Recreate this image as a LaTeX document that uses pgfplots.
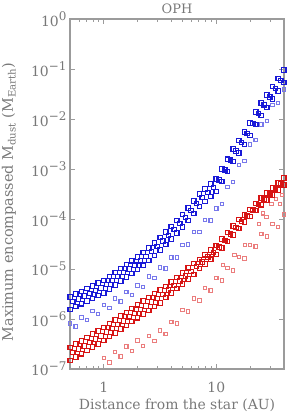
\documentclass[border=0pt]{standalone}
\usepackage{pgfplots}
\pgfplotsset{compat=1.18}
\usepackage{pgfplotstable}
\usepackage{fontspec}
\setmainfont{DejaVu Serif}
\definecolor{axgray}{RGB}{155,155,155}
\definecolor{txtgray}{RGB}{120,120,120}
\definecolor{pblue}{RGB}{25,25,215}
\definecolor{lblue}{RGB}{120,120,235}
\definecolor{pred}{RGB}{215,20,20}
\definecolor{lred}{RGB}{235,125,125}
\newcommand{\tp}[1]{10\raisebox{0.75ex}{\fontsize{12}{12}\selectfont #1}}

% blue, main band: two edge lines on one grid
\pgfplotstableread{
x a c
0.501 2.75e-6 1.55e-6
0.562 3.16e-6 1.78e-6
0.631 3.55e-6 2.00e-6
0.708 4.07e-6 2.29e-6
0.794 4.57e-6 2.57e-6
0.891 5.25e-6 2.95e-6
1.000 5.89e-6 3.31e-6
1.122 7.08e-6 3.98e-6
1.259 8.51e-6 4.79e-6
1.413 1.02e-5 5.75e-6
1.585 1.23e-5 6.92e-6
1.778 1.45e-5 8.13e-6
1.995 1.74e-5 9.77e-6
2.239 2.14e-5 1.20e-5
2.512 2.63e-5 1.48e-5
2.818 3.31e-5 1.86e-5
3.162 4.27e-5 2.40e-5
3.548 5.50e-5 3.09e-5
3.981 7.08e-5 3.98e-5
4.467 9.33e-5 5.25e-5
5.012 1.23e-4 6.92e-5
5.623 1.66e-4 9.33e-5
6.310 2.29e-4 1.29e-4
7.079 3.16e-4 1.78e-4
7.943 3.98e-4 2.24e-4
8.913 5.01e-4 2.82e-4
10.00 6.31e-4 3.55e-4
11.22 1.00e-3 5.62e-4
12.59 1.58e-3 8.91e-4
14.13 2.51e-3 1.41e-3
15.85 3.72e-3 2.09e-3
17.78 5.50e-3 3.09e-3
19.95 8.32e-3 4.68e-3
22.39 1.38e-2 7.76e-3
25.12 2.09e-2 1.17e-2
28.18 3.02e-2 1.70e-2
31.62 4.47e-2 2.51e-2
35.48 6.46e-2 3.63e-2
39.81 9.55e-2 5.37e-2
}\bluemainAC

% blue, main band: middle line
\pgfplotstableread{
x b
0.531 2.24e-6
0.596 2.51e-6
0.668 2.88e-6
0.750 3.24e-6
0.841 3.72e-6
0.944 4.17e-6
1.059 4.90e-6
1.189 5.89e-6
1.334 7.08e-6
1.496 8.51e-6
1.679 1.00e-5
1.884 1.20e-5
2.113 1.45e-5
2.371 1.78e-5
2.661 2.24e-5
2.985 2.82e-5
3.350 3.63e-5
3.758 4.68e-5
4.217 6.17e-5
4.732 8.13e-5
5.309 1.07e-4
5.957 1.48e-4
6.683 2.04e-4
7.499 2.69e-4
8.414 3.39e-4
9.441 4.27e-4
10.59 6.03e-4
11.89 9.55e-4
13.34 1.51e-3
14.96 2.29e-3
16.79 3.39e-3
18.84 5.13e-3
21.13 8.13e-3
23.71 1.29e-2
26.61 1.91e-2
29.85 2.75e-2
33.50 4.07e-2
37.58 5.89e-2
}\bluemainB

% blue, lower band
\pgfplotstableread{
x y
0.501 8.13e-7
0.631 1.07e-6
0.794 1.45e-6
1.000 1.91e-6
1.259 2.57e-6
1.585 3.47e-6
1.995 4.68e-6
2.512 7.08e-6
3.162 1.07e-5
3.981 1.70e-5
5.012 3.02e-5
6.310 5.50e-5
7.943 9.55e-5
10.00 1.62e-4
12.59 4.37e-4
15.85 1.20e-3
19.95 3.09e-3
25.12 7.76e-3
31.62 1.91e-2
39.81 3.89e-2
}\bluelowD
\pgfplotstableread{
x y
0.562 7.08e-7
0.708 9.55e-7
0.891 1.26e-6
1.122 1.66e-6
1.413 2.24e-6
1.778 3.02e-6
2.239 4.37e-6
2.818 6.61e-6
3.548 1.02e-5
4.467 1.70e-5
5.623 3.09e-5
7.079 5.50e-5
8.913 9.33e-5
11.22 2.00e-4
14.13 5.50e-4
17.78 1.45e-3
22.39 3.80e-3
28.18 9.12e-3
35.48 2.09e-2
}\bluelowE

% red, main band: two edge lines on one grid
\pgfplotstableread{
x a c
0.501 2.69e-7 1.48e-7
0.562 3.16e-7 1.74e-7
0.631 3.63e-7 2.00e-7
0.708 4.27e-7 2.34e-7
0.794 5.01e-7 2.75e-7
0.891 5.75e-7 3.16e-7
1.000 6.76e-7 3.72e-7
1.122 8.13e-7 4.47e-7
1.259 9.55e-7 5.25e-7
1.413 1.15e-6 6.31e-7
1.585 1.35e-6 7.41e-7
1.778 1.62e-6 8.91e-7
1.995 1.91e-6 1.05e-6
2.239 2.29e-6 1.26e-6
2.512 2.69e-6 1.48e-6
2.818 3.24e-6 1.78e-6
3.162 3.80e-6 2.09e-6
3.548 4.47e-6 2.69e-6
3.981 5.50e-6 3.31e-6
4.467 6.76e-6 4.07e-6
5.012 8.32e-6 5.01e-6
5.623 1.05e-5 6.31e-6
6.310 1.29e-5 7.76e-6
7.079 1.55e-5 1.02e-5
7.943 1.91e-5 1.26e-5
8.913 2.40e-5 1.58e-5
10.00 2.95e-5 1.95e-5
11.22 3.98e-5 2.63e-5
12.59 5.37e-5 3.55e-5
14.13 7.24e-5 4.79e-5
15.85 9.77e-5 6.46e-5
17.78 1.20e-4 8.71e-5
19.95 1.55e-4 1.12e-4
22.39 2.04e-4 1.48e-4
25.12 2.63e-4 1.91e-4
28.18 3.31e-4 2.40e-4
31.62 4.17e-4 3.02e-4
35.48 5.25e-4 3.80e-4
39.81 6.61e-4 4.79e-4
}\redmainAC

% red, main band: middle line
\pgfplotstableread{
x b
0.531 2.14e-7
0.596 2.51e-7
0.668 2.88e-7
0.750 3.39e-7
0.841 3.98e-7
0.944 4.57e-7
1.059 5.50e-7
1.189 6.46e-7
1.334 7.76e-7
1.496 9.12e-7
1.679 1.10e-6
1.884 1.29e-6
2.113 1.55e-6
2.371 1.82e-6
2.661 2.19e-6
2.985 2.57e-6
3.350 3.09e-6
3.758 3.80e-6
4.217 4.68e-6
4.732 5.75e-6
5.309 7.24e-6
5.957 8.91e-6
6.683 1.12e-5
7.499 1.38e-5
8.414 1.74e-5
9.441 2.14e-5
10.59 2.75e-5
11.89 3.72e-5
13.34 5.01e-5
14.96 6.76e-5
16.79 8.91e-5
18.84 1.15e-4
21.13 1.51e-4
23.71 1.95e-4
26.61 2.51e-4
29.85 3.16e-4
33.50 3.98e-4
37.58 5.01e-4
}\redmainB

% red, lower band
\pgfplotstableread{
x y
1.000 1.66e-7
1.259 2.19e-7
1.585 2.82e-7
1.995 3.72e-7
2.512 4.57e-7
3.162 5.89e-7
3.981 8.71e-7
5.012 1.51e-6
6.310 2.57e-6
7.943 4.17e-6
10.00 6.61e-6
12.59 1.05e-5
15.85 1.74e-5
19.95 3.02e-5
25.12 5.01e-5
31.62 7.94e-5
39.81 1.23e-4
}\redlowF
\pgfplotstableread{
x y
1.122 1.35e-7
1.413 1.78e-7
1.778 2.29e-7
2.239 2.88e-7
2.818 3.63e-7
3.548 5.01e-7
4.467 8.13e-7
5.623 1.41e-6
7.079 2.34e-6
8.913 3.72e-6
11.22 5.89e-6
14.13 9.33e-6
17.78 1.62e-5
22.39 2.82e-5
28.18 4.47e-5
35.48 6.92e-5
}\redlowG
\pgfplotstableread{
x y
11.5 1.20e-5
14.5 1.90e-5
18.0 3.00e-5
24.0 8.00e-5
26.0 1.30e-4
28.0 1.10e-4
31.0 2.00e-4
34.0 2.50e-4
37.0 2.00e-4
38.5 3.00e-4
}\redlowH

\begin{document}
\begin{tikzpicture}
\begin{axis}[
  scale only axis, width=214bp, height=350bp,
  xmode=log, ymode=log,
  xmin=0.5, xmax=40, ymin=1e-7, ymax=1,
  axis line style={draw=axgray, line width=1.1pt},
  every tick/.style={draw=axgray, line width=0.8pt},
  tick align=inside,
  major tick length=5bp, minor tick length=3bp,
  xtick={1,10}, xticklabels={1,10},
  minor xtick={0.5,0.6,0.7,0.8,0.9,2,3,4,5,6,7,8,9,20,30,40},
  ytick={1e-7,1e-6,1e-5,1e-4,1e-3,1e-2,1e-1,1},
  yticklabels={\tp{−7},\tp{−6},\tp{−5},\tp{−4},\tp{−3},\tp{−2},\tp{−1},\tp{0}},
  yminorticks=false,
  tick label style={font=\fontsize{14}{16}\selectfont, text=txtgray},
  xticklabel style={anchor=base, yshift=-23bp},
  label style={font=\fontsize{14}{16}\selectfont, text=txtgray},
  xlabel={Distance from the star (AU)},
  ylabel={Maximum encompassed M\textsubscript{dust} (M\textsubscript{Earth})},
  xlabel style={at={(axis description cs:0.5,0)}, anchor=base, yshift=-40bp},
  ylabel style={font=\fontsize{14.5}{16}\selectfont, at={(axis description cs:0,0.5)}, anchor=base, yshift=57bp, xshift=-8bp},
  title={OPH},
  title style={font=\fontsize{13}{15}\selectfont, text=txtgray, yshift=-4bp},
]
\coordinate (sw) at (rel axis cs:0,0);
\pgfplotsset{
  bandmk/.style={only marks, mark=square, mark size=2.2pt, line width=1.3pt},
  lowmk/.style={only marks, mark=square, mark size=1.7pt, line width=1.1pt},
}
\addplot[lowmk, lblue] table[x=x, y=y] {\bluelowD};
\addplot[lowmk, lblue] table[x=x, y=y] {\bluelowE};
\addplot[bandmk, pblue] table[x=x, y=a] {\bluemainAC};
\addplot[bandmk, pblue] table[x=x, y=c] {\bluemainAC};
\addplot[bandmk, pblue] table[x=x, y=b] {\bluemainB};
\addplot[lowmk, lred] table[x=x, y=y] {\redlowF};
\addplot[lowmk, lred] table[x=x, y=y] {\redlowG};
\addplot[lowmk, lred] table[x=x, y=y] {\redlowH};
\addplot[bandmk, pred] table[x=x, y=a] {\redmainAC};
\addplot[bandmk, pred] table[x=x, y=c] {\redmainAC};
\addplot[bandmk, pred] table[x=x, y=b] {\redmainB};
\end{axis}
\pgfresetboundingbox
\path[use as bounding box] (sw) ++(-70bp,-45bp) rectangle ++(291bp,414bp);
\end{tikzpicture}
\end{document}
